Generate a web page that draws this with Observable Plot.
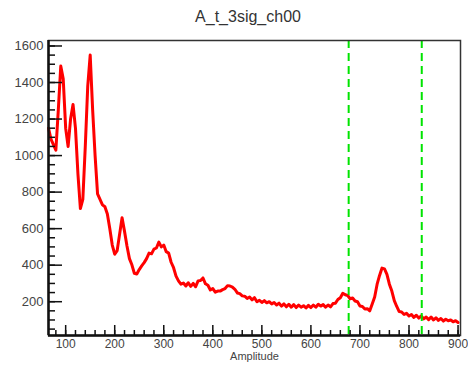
<!DOCTYPE html>
<html><head><meta charset="utf-8">
<script src="https://cdn.jsdelivr.net/npm/d3@7"></script>
<script src="https://cdn.jsdelivr.net/npm/@observablehq/plot@0.6"></script>
<style>
body{margin:0;background:#fff;font-family:"Liberation Sans",Arial,sans-serif;}
#title{height:32px;line-height:34px;text-align:center;font-size:16px;color:#333;width:468px;padding-left:28px;box-sizing:border-box;}
</style></head><body>
<div id="title">A_t_3sig_ch00</div>
<div id="chart"></div>
<script>
// Histogram bins (amplitude, step 5)
const amplitude = d3.range(65, 901, 5);
const counts = [
1150,1090,1060,1030,1250,1490,1420,1150,1050,1200,
1280,1150,900,710,760,1050,1380,1550,1250,1000,
790,760,730,720,680,600,510,460,480,570,
660,585,505,436,402,356,352,376,396,414,
436,466,462,488,494,526,500,510,474,466,
416,386,340,314,296,302,286,304,284,300,
282,314,316,330,298,290,264,272,252,258,
258,266,272,288,286,280,268,248,244,232,
230,218,226,210,222,200,208,196,206,194,
200,188,196,182,192,176,188,172,186,170,
184,168,182,170,178,166,180,168,182,170,
186,176,184,170,182,172,190,192,212,222,
246,238,234,216,220,204,200,176,174,160,
162,150,188,226,296,344,384,380,350,296,
258,206,174,146,144,130,136,122,130,114,
126,110,122,106,116,102,116,100,112,98,
108,94,104,96,100,90,96,86
];
const cutLines = [677, 826];
const xMajor = [100, 200, 300, 400, 500, 600, 700, 800, 900];
const yMajor = [200, 400, 600, 800, 1000, 1200, 1400, 1600];
const xMinor = d3.range(80, 901, 20);
const yMinor = d3.range(50, 1601, 50);
const xDomain = [65, 905];
const yDomain = [15, 1630];

const data = amplitude.map((a, i) => ({a, c: counts[i]}));
const noText = () => "";
const tickStyle = {stroke: "#111", strokeWidth: 1.5, tickFormat: noText, label: null};

const chart = Plot.plot({
  width: 468, height: 334,
  marginTop: 8, marginLeft: 48, marginRight: 8, marginBottom: 31,
  style: {background: "#fff", fontFamily: "'Liberation Sans', Arial, sans-serif"},
  x: {domain: xDomain},
  y: {domain: yDomain},
  marks: [
    Plot.line(data, {x: "a", y: "c", stroke: "#ff0000", strokeWidth: 3, strokeLinejoin: "round"}),
    Plot.ruleX(cutLines, {stroke: "#00e400", strokeWidth: 2, strokeDasharray: "8,5"}),
    Plot.frame({stroke: "#333", strokeWidth: 1.5}),
    Plot.axisY(yMinor, {...tickStyle, tickSize: 7, dx: 7}),
    Plot.axisY(yMajor, {...tickStyle, tickSize: 14, dx: 14}),
    Plot.axisY(yMajor, {tickSize: 0, tickPadding: 5, fontSize: 13, fill: "#444", label: null, tickFormat: "d"}),
    Plot.axisX(xMinor, {...tickStyle, tickSize: 5, dy: -5}),
    Plot.axisX(xMajor, {...tickStyle, tickSize: 10, dy: -10}),
    Plot.axisX(xMajor, {tickSize: 0, tickPadding: 4, fontSize: 12, fill: "#444", label: null, tickFormat: "d"}),
    Plot.ruleX([xDomain[0]], {stroke: "#111", strokeWidth: 2.5}),
    Plot.ruleY([yDomain[0]], {stroke: "#111", strokeWidth: 2.5}),
    Plot.text(["Amplitude"], {frameAnchor: "bottom", dy: 24, fontSize: 11, fill: "#444"})
  ]
});
document.getElementById("chart").appendChild(chart);
</script>
</body></html>
